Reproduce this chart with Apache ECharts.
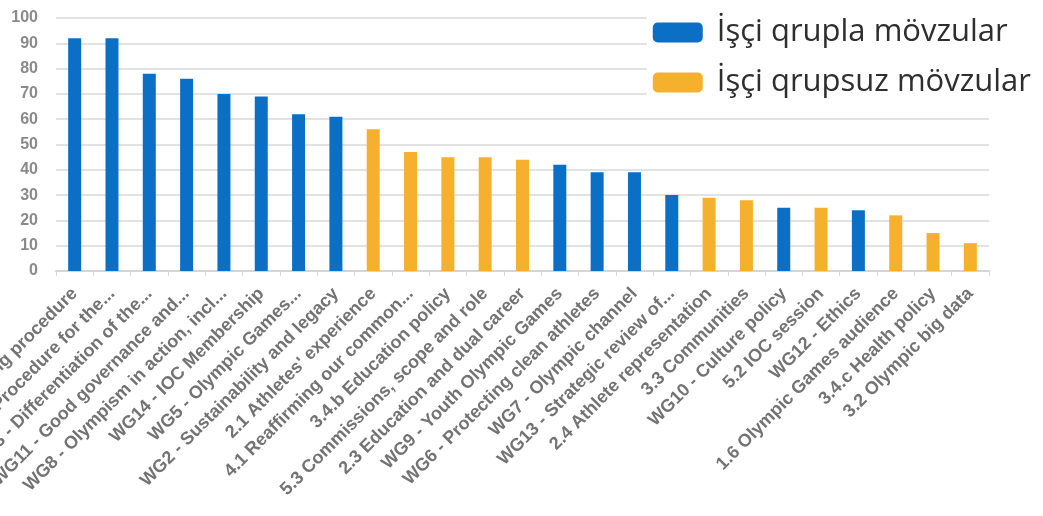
<!DOCTYPE html>
<html><head><meta charset="utf-8">
<script src="https://cdn.jsdelivr.net/npm/echarts@6/dist/echarts.min.js"></script>
<style>html,body{margin:0;padding:0;background:#fff}#c{width:1043px;height:516px}</style>
</head><body><div id="c"></div>
<script>
const categories = [
  "WG1 - Bidding procedure",
  "WG4 - Procedure for the...",
  "WG3 - Differentiation of the...",
  "WG11 - Good governance and...",
  "WG8 - Olympism in action, incl...",
  "WG14 - IOC Membership",
  "WG5 - Olympic Games...",
  "WG2 - Sustainability and legacy",
  "2.1 Athletes' experience",
  "4.1 Reaffirming our common...",
  "3.4.b Education policy",
  "5.3 Commissions, scope and role",
  "2.3 Education and dual career",
  "WG9 - Youth Olympic Games",
  "WG6 - Protecting clean athletes",
  "WG7 - Olympic channel",
  "WG13 - Strategic review of...",
  "2.4 Athlete representation",
  "3.3 Communities",
  "WG10 - Culture policy",
  "5.2 IOC session",
  "WG12 - Ethics",
  "1.6 Olympic Games audience",
  "3.4.c Health policy",
  "3.2 Olympic big data"
];
const values = [92, 92, 78, 76, 70, 69, 62, 61, 56, 47, 45, 45, 44, 42, 39, 39, 30, 29, 28, 25, 25, 24, 22, 15, 11];
// 1 = topic with working group, 0 = topic without working group
const withGroup = [1,1,1,1,1,1,1,1,0,0,0,0,0,1,1,1,1,0,0,1,0,1,0,0,0];
const seriesNames = ["İşçi qrupla mövzular", "İşçi qrupsuz mövzular"];
const yTicks = [0, 10, 20, 30, 40, 50, 60, 70, 80, 90, 100];

const blue = '#0c6fc6', orange = '#f5b12d';
const dataWith = values.map((v, i) => withGroup[i] ? v : '-');
const dataWithout = values.map((v, i) => withGroup[i] ? '-' : v);

const chart = echarts.init(document.getElementById('c'));
chart.setOption({
  animation: false,
  backgroundColor: '#fff',
  grid: { left: 56, right: 54, top: 18, bottom: 245, containLabel: false, outerBoundsMode: 'none' },
  legend: {
    orient: 'vertical', right: 8, top: 13,
    itemWidth: 50, itemHeight: 20, itemGap: 19,
    backgroundColor: '#fff',
    padding: [4, 4, 4, 6],
    icon: 'roundRect',
    textStyle: { fontFamily: 'Open Sans', fontSize: 31, color: '#2e2e2e', padding: [0, 0, 0, 9] },
    data: seriesNames
  },
  xAxis: {
    type: 'category', data: categories,
    axisLine: { lineStyle: { color: '#d5d5d5', width: 2 } },
    axisTick: { show: true, alignWithLabel: false, length: 5, lineStyle: { color: '#d8d8d8' } },
    axisLabel: { interval: 0, rotate: 45, fontFamily: 'Liberation Sans', fontWeight: 'bold', fontSize: 18, color: '#737373', margin: 20 }
  },
  yAxis: {
    type: 'value', min: yTicks[0], max: yTicks[yTicks.length - 1], interval: 10,
    axisLine: { show: false }, axisTick: { show: false },
    splitLine: { lineStyle: { color: '#e2e2e2', width: 2 } },
    axisLabel: { fontFamily: 'Liberation Sans', fontWeight: 'bold', fontSize: 16, color: '#8a8a8a', margin: 18 }
  },
  series: [
    { name: seriesNames[0], type: 'bar', data: dataWith, barWidth: 13, barGap: '-100%', itemStyle: { color: blue } },
    { name: seriesNames[1], type: 'bar', data: dataWithout, barWidth: 13, barGap: '-100%', itemStyle: { color: orange } }
  ]
});
</script>
</body></html>
